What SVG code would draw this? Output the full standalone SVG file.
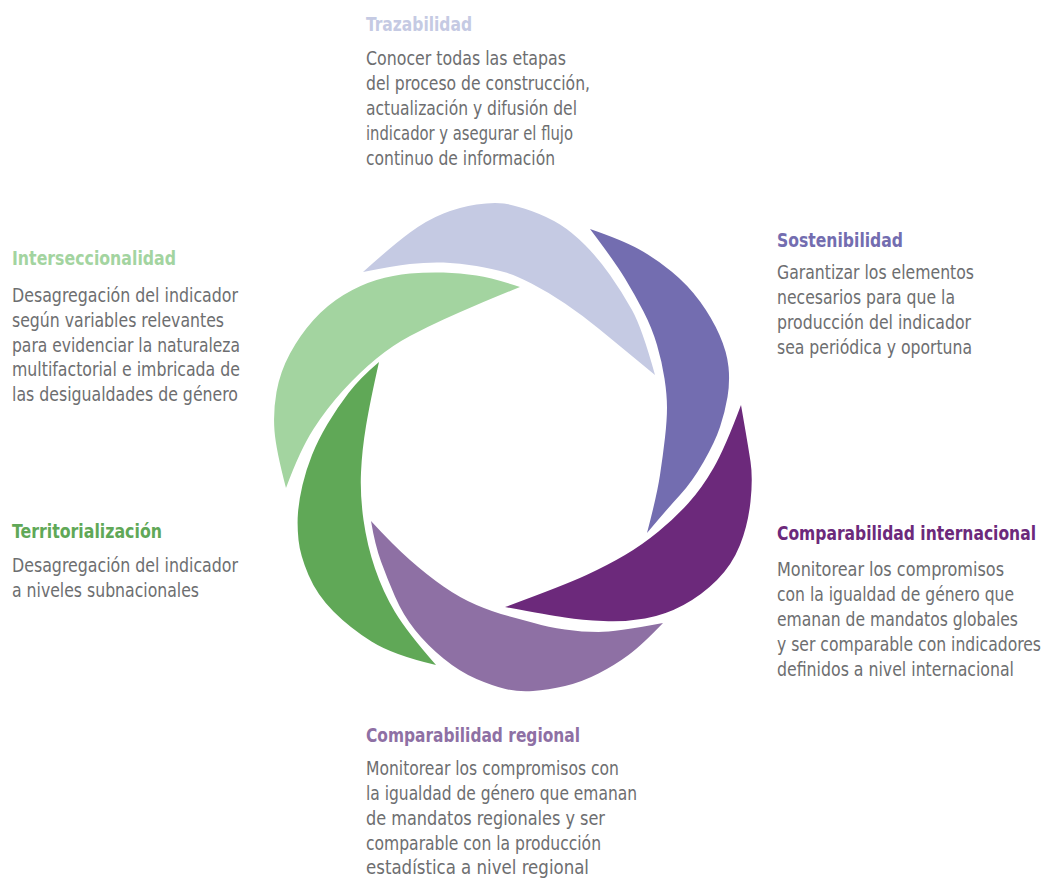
<svg xmlns="http://www.w3.org/2000/svg" width="1043" height="878" viewBox="0 0 1043 878">
<style>
.t{font-family:"DejaVu Sans Condensed","Liberation Sans Narrow","Liberation Sans",sans-serif;font-size:20px;font-weight:bold}
.b{font-family:"DejaVu Sans Condensed","Liberation Sans Narrow","Liberation Sans",sans-serif;font-size:20px;fill:#6d6e70}
</style>
<rect width="1043" height="878" fill="#ffffff"/>
<g id="trazabilidad">
<path fill="#c5cae3" d="M363,272 Q393,245 410,232.5 Q427,220 443.5,213.5 Q460,207 476.5,204.5 Q493,202 504,203.5 Q515,205 531.5,211 Q548,217 560,224.5 Q572,232 585,245 Q598,258 610,275 Q622,292 632,310 Q642,328 655,375 Q615,342 598.5,328.5 Q582,315 565,303.5 Q548,292 531.5,283.5 Q515,275 504,272 Q493,269 476.5,266 Q460,263 443.5,262.5 Q427,262 410,264 Q393,266 363,272 Z"/>
<text class="t" x="366" y="31" fill="#c5cae3" textLength="106" lengthAdjust="spacingAndGlyphs">Trazabilidad</text>
<text class="b" x="366" y="65" textLength="200" lengthAdjust="spacingAndGlyphs">Conocer todas las etapas</text>
<text class="b" x="366" y="90" textLength="224" lengthAdjust="spacingAndGlyphs">del proceso de construcción,</text>
<text class="b" x="366" y="115" textLength="211" lengthAdjust="spacingAndGlyphs">actualización y difusión del</text>
<text class="b" x="366" y="140" textLength="207" lengthAdjust="spacingAndGlyphs">indicador y asegurar el flujo</text>
<text class="b" x="366" y="165" textLength="189" lengthAdjust="spacingAndGlyphs">continuo de información</text>
</g>
<g id="sostenibilidad">
<path fill="#736db0" d="M590,229 Q622,240 638.5,249 Q655,258 671.5,271.5 Q688,285 700,301.5 Q712,318 719.5,335 Q727,352 728.5,367 Q730,382 727.5,397 Q725,412 720,427 Q715,442 703.5,462 Q692,482 680,495 Q668,508 647,533 Q657,495 660,475 Q663,455 665,437.5 Q667,420 667,407.5 Q667,395 664.5,378.5 Q662,362 657,345 Q652,328 643.5,311.5 Q635,295 625,278.5 Q615,262 590,229 Z"/>
<text class="t" x="777" y="247" fill="#736db0" textLength="126" lengthAdjust="spacingAndGlyphs">Sostenibilidad</text>
<text class="b" x="777" y="279" textLength="197" lengthAdjust="spacingAndGlyphs">Garantizar los elementos</text>
<text class="b" x="777" y="304" textLength="178" lengthAdjust="spacingAndGlyphs">necesarios para que la</text>
<text class="b" x="777" y="329" textLength="194" lengthAdjust="spacingAndGlyphs">producción del indicador</text>
<text class="b" x="777" y="354" textLength="195" lengthAdjust="spacingAndGlyphs">sea periódica y oportuna</text>
</g>
<g id="comparabilidad-internacional">
<path fill="#6c297b" d="M741,405 Q748,445 750.5,461.5 Q753,478 750.5,501.5 Q748,525 740,545 Q732,565 717,580 Q702,595 683.5,605 Q665,615 645,618.5 Q625,622 603.5,621 Q582,620 565,617.5 Q548,615 505,607 Q565,585 586.5,575 Q608,565 625,555 Q642,545 658.5,531.5 Q675,518 688.5,503 Q702,488 713.5,468 Q725,448 741,405 Z"/>
<g transform="translate(777,0) scale(0.85,1)">
<text class="t" x="0" y="540" fill="#6c297b" textLength="304.7" lengthAdjust="spacingAndGlyphs">Comparabilidad internacional</text>
<text class="b" x="0" y="576" textLength="267.1" lengthAdjust="spacingAndGlyphs">Monitorear los compromisos</text>
<text class="b" x="0" y="601" textLength="278.8" lengthAdjust="spacingAndGlyphs">con la igualdad de género que</text>
<text class="b" x="0" y="626" textLength="283.5" lengthAdjust="spacingAndGlyphs">emanan de mandatos globales</text>
<text class="b" x="0" y="651" textLength="310.6" lengthAdjust="spacingAndGlyphs">y ser comparable con indicadores</text>
<text class="b" x="0" y="676" textLength="278.8" lengthAdjust="spacingAndGlyphs">definidos a nivel internacional</text>
</g>
</g>
<g id="comparabilidad-regional">
<path fill="#8e70a4" d="M371,521 Q393,545 410,560 Q427,575 443.5,586.5 Q460,598 476.5,605 Q493,612 506.5,615.5 Q520,619 534,623 Q548,627 565,629.5 Q582,632 598.5,632 Q615,632 663,623 Q642,645 628.5,655 Q615,665 598.5,673.5 Q582,682 565,686 Q548,690 533,691 Q518,692 505.5,689 Q493,686 476.5,679 Q460,672 443.5,658.5 Q427,645 415,630 Q403,615 395,596.5 Q387,578 381,561.5 Q375,545 371,521 Z"/>
<text class="t" x="366" y="742" fill="#8e70a4" textLength="214" lengthAdjust="spacingAndGlyphs">Comparabilidad regional</text>
<text class="b" x="366" y="775" textLength="253" lengthAdjust="spacingAndGlyphs">Monitorear los compromisos con</text>
<text class="b" x="366" y="800" textLength="271" lengthAdjust="spacingAndGlyphs">la igualdad de género que emanan</text>
<text class="b" x="366" y="825" textLength="239" lengthAdjust="spacingAndGlyphs">de mandatos regionales y ser</text>
<text class="b" x="366" y="850" textLength="235" lengthAdjust="spacingAndGlyphs">comparable con la producción</text>
<text class="b" x="366" y="874" textLength="223" lengthAdjust="spacingAndGlyphs">estadística a nivel regional</text>
</g>
<g id="territorializacion">
<path fill="#60a857" d="M379,362 Q360,378 348.5,393 Q337,408 327.5,424 Q318,440 312,455 Q306,470 302.5,485 Q299,500 298,512.5 Q297,525 298.5,540 Q300,555 308.5,575 Q317,595 333.5,611.5 Q350,628 371.5,641.5 Q393,655 436,665 Q407,632 395,612 Q383,592 375,568.5 Q367,545 363.5,520 Q360,495 361,472.5 Q362,450 366,426 Q370,402 379,362 Z"/>
<text class="t" x="12" y="538" fill="#60a857" textLength="150" lengthAdjust="spacingAndGlyphs">Territorialización</text>
<text class="b" x="12" y="572" textLength="226" lengthAdjust="spacingAndGlyphs">Desagregación del indicador</text>
<text class="b" x="12" y="597" textLength="187" lengthAdjust="spacingAndGlyphs">a niveles subnacionales</text>
</g>
<g id="interseccionalidad">
<path fill="#a3d4a0" d="M286,488 Q276,450 274.5,431 Q273,412 276.5,392 Q280,372 290,353.5 Q300,335 313.5,320 Q327,305 343.5,295 Q360,285 376.5,280 Q393,275 410,273.5 Q427,272 443.5,272.5 Q460,273 476.5,275.5 Q493,278 520,287 Q493,298 476.5,305 Q460,312 443.5,319.5 Q427,327 410,336 Q393,345 376.5,358.5 Q360,372 343.5,390 Q327,408 313.5,429 Q300,450 286,488 Z"/>
<text class="t" x="12" y="265" fill="#a3d4a0" textLength="164" lengthAdjust="spacingAndGlyphs">Interseccionalidad</text>
<text class="b" x="12" y="302" textLength="226" lengthAdjust="spacingAndGlyphs">Desagregación del indicador</text>
<text class="b" x="12" y="327" textLength="212" lengthAdjust="spacingAndGlyphs">según variables relevantes</text>
<text class="b" x="12" y="352" textLength="228" lengthAdjust="spacingAndGlyphs">para evidenciar la naturaleza</text>
<text class="b" x="12" y="376" textLength="228" lengthAdjust="spacingAndGlyphs">multifactorial e imbricada de</text>
<text class="b" x="12" y="401" textLength="226" lengthAdjust="spacingAndGlyphs">las desigualdades de género</text>
</g>
<g id="connectors"></g>
</svg>
